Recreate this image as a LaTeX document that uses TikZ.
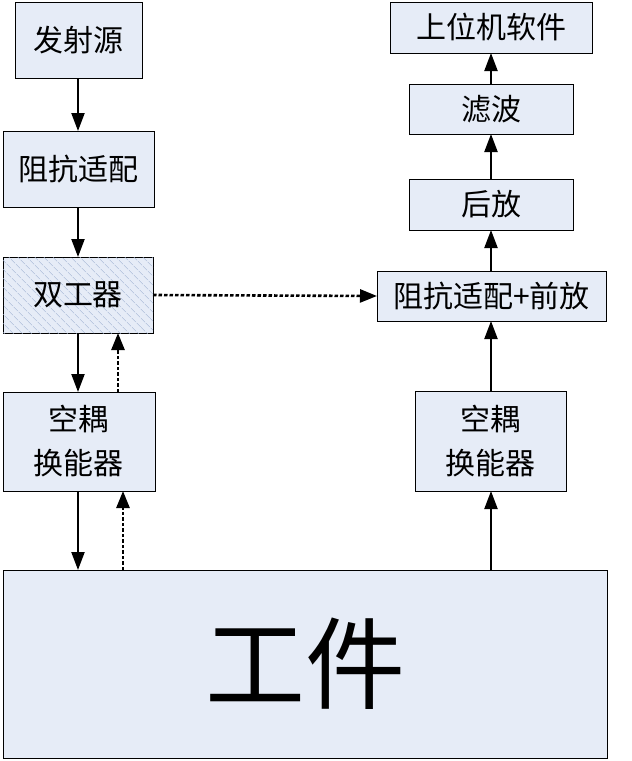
\documentclass[tikz,border=0pt]{standalone}
\usepackage{fontspec}
\newfontfamily\cjk{Noto Sans CJK SC}
\usetikzlibrary{arrows.meta,patterns.meta}
\definecolor{boxfill}{RGB}{230,236,247}
\definecolor{hatchc}{RGB}{165,182,212}
\tikzset{
  blk/.style={draw=black, line width=1pt, fill=boxfill, inner sep=0pt, outer sep=0pt,
    font=\cjk\fontsize{30}{44}\selectfont, align=center},
  hatched/.style={postaction={pattern={Lines[angle=-45,distance=6.5pt,line width=0.5pt]}, pattern color=hatchc}},
  sarrow/.style={line width=2.2pt, -{Triangle[length=18pt,width=13pt]}},
  darrow/.style={line width=2.6pt, dash pattern=on 3.5pt off 2pt, -{Triangle[length=17pt,width=13pt]}}
}
\begin{document}
\begin{tikzpicture}[x=1pt,y=-1pt]
\useasboundingbox (0,0) rectangle (632,761);
\node[blk, minimum width=127pt, minimum height=76pt] (src) at (78.5,40) {发射源};
\node[blk, minimum width=151pt, minimum height=76pt] (imp) at (78.5,169) {阻抗适配};
\node[blk, hatched, minimum width=150pt, minimum height=76pt] (dup) at (78,295) {双工器};
\node[blk, minimum width=152pt, minimum height=99pt] (tl) at (79,441.5) {空耦\\换能器};
\node[blk, minimum width=604pt, minimum height=188pt, font=\cjk\fontsize{100}{100}\selectfont] (work) at (305,664) {工件};
\node[blk, minimum width=202pt, minimum height=51pt] (pc) at (491,27.5) {上位机软件};
\node[blk, minimum width=164pt, minimum height=50pt] (filt) at (491,109) {滤波};
\node[blk, minimum width=164pt, minimum height=51pt] (post) at (491,204.5) {后放};
\node[blk, minimum width=229pt, minimum height=50pt] (pre) at (491.5,296) {阻抗适配+前放};
\node[blk, minimum width=151pt, minimum height=100pt] (tr) at (490.5,441) {空耦\\换能器};

\draw[sarrow] (src.south -| 78,0) -- (imp.north -| 78,0);
\draw[sarrow] (imp.south -| 78,0) -- (dup.north -| 78,0);
\draw[sarrow] (dup.south -| 78,0) -- (tl.north -| 78,0);
\draw[darrow] (tl.north -| 118,0) -- (dup.south -| 118,0);
\draw[sarrow] (tl.south -| 78,0) -- (work.north -| 78,0);
\draw[darrow] (work.north -| 123,0) -- (tl.south -| 123,0);
\draw[darrow] (dup.east) -- (pre.west);
\draw[sarrow] (work.north -| 491,0) -- (tr.south -| 491,0);
\draw[sarrow] (tr.north -| 491,0) -- (pre.south -| 491,0);
\draw[sarrow] (pre.north -| 491,0) -- (post.south -| 491,0);
\draw[sarrow] (post.north -| 491,0) -- (filt.south -| 491,0);
\draw[sarrow] (filt.north -| 491,0) -- (pc.south -| 491,0);
\end{tikzpicture}
\end{document}
